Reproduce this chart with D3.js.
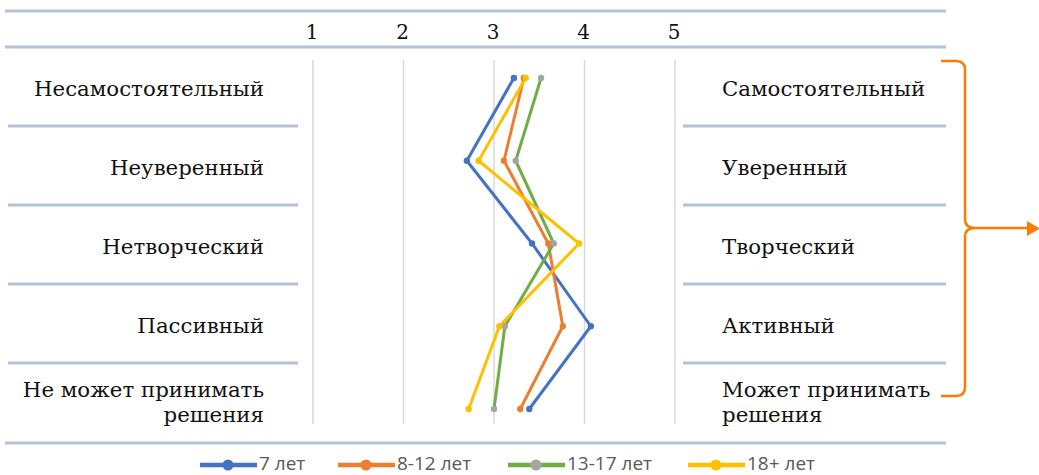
<!DOCTYPE html>
<html><head><meta charset="utf-8">
<script src="https://cdn.jsdelivr.net/npm/d3@7/dist/d3.min.js"></script>
<style>body{margin:0;background:#fff}svg{display:block}</style>
</head><body>
<svg id="c" width="1039" height="475"></svg>
<script>
const leftLabels = [["Несамостоятельный"],["Неуверенный"],["Нетворческий"],["Пассивный"],["Не может принимать","решения"]];
const rightLabels = [["Самостоятельный"],["Уверенный"],["Творческий"],["Активный"],["Может принимать","решения"]];
const tickValues = [1,2,3,4,5];
const seriesNames = ["7 лет","8-12 лет","13-17 лет","18+ лет"];
const v7 = [3.22,2.70,3.42,4.07,3.39];
const v8_12 = [3.33,3.11,3.60,3.76,3.29];
const v13_17 = [3.52,3.24,3.66,3.12,3.00];
const v18 = [3.35,2.83,3.94,3.06,2.72];
const lineColors = ["#4472C4","#ED7D31","#70AD47","#FFC000"];
const markerColors = ["#4472C4","#ED7D31","#A5A5A5","#FFC000"];
const seriesValues = [v7,v8_12,v13_17,v18];

const svg = d3.select("#c");
const x = d3.scaleLinear().domain([1,5]).range([313,675]);
const y = d3.scalePoint().domain(d3.range(5)).range([78,409]);
const sepColor = "#b4c1dc";
const serif = "'DejaVu Serif', 'Liberation Serif', serif";

[11,47,443].forEach(yy=>svg.append("line").attr("x1",5).attr("x2",946).attr("y1",yy).attr("y2",yy).attr("stroke",sepColor).attr("stroke-width",3));
[126,205,284,363].forEach(yy=>{
  svg.append("line").attr("x1",8).attr("x2",298).attr("y1",yy).attr("y2",yy).attr("stroke",sepColor).attr("stroke-width",3);
  svg.append("line").attr("x1",683).attr("x2",946).attr("y1",yy).attr("y2",yy).attr("stroke",sepColor).attr("stroke-width",3);
});

svg.append("g").selectAll("line").data(tickValues).join("line")
  .attr("x1",d=>x(d)).attr("x2",d=>x(d)).attr("y1",60).attr("y2",424)
  .attr("stroke","#d9d9d9").attr("stroke-width",1.5);

svg.append("g").selectAll("text").data(tickValues).join("text")
  .attr("x",d=>x(d)-1).attr("y",39).attr("text-anchor","middle")
  .attr("font-family",serif).attr("font-size",20).attr("fill","#111").text(d=>d);

const labelY = [96,175,254,333,397];
function addLabel(t, xx, yy, anchor){
  svg.append("text").attr("x",xx).attr("y",yy).attr("text-anchor",anchor)
    .attr("font-family",serif).attr("font-size",21.3).attr("fill","#111").text(t);
}
leftLabels.forEach((lines,i)=>lines.forEach((t,j)=>addLabel(t,264,labelY[i]+j*25,"end")));
rightLabels.forEach((lines,i)=>lines.forEach((t,j)=>addLabel(t,722,labelY[i]+j*25,"start")));

const line = d3.line().x(d=>x(d)).y((d,i)=>y(i));
seriesValues.forEach((vals,s)=>{
  svg.append("path").attr("d",line(vals)).attr("fill","none").attr("stroke",lineColors[s]).attr("stroke-width",3).attr("stroke-linejoin","round");
});
seriesValues.forEach((vals,s)=>{
  svg.append("g").selectAll("circle").data(vals).join("circle")
    .attr("cx",d=>x(d)).attr("cy",(d,i)=>y(i)).attr("r",3.2).attr("fill",markerColors[s]);
});

const legX = [200,338,508,688];
seriesNames.forEach((n,s)=>{
  const g = svg.append("g").attr("transform",`translate(${legX[s]},465)`);
  g.append("line").attr("x1",0).attr("x2",57).attr("y1",0).attr("y2",0).attr("stroke",lineColors[s]).attr("stroke-width",4.5);
  g.append("circle").attr("cx",28).attr("cy",0).attr("r",5.5).attr("fill",markerColors[s]);
  g.append("text").attr("x",59).attr("y",4.5).attr("font-family","Open Sans").attr("font-size",19).attr("fill","#595959").text(n);
});

const orange = "#FF7A00";
const br = d3.path();
br.moveTo(941,61); br.lineTo(956,61); br.quadraticCurveTo(965,61,965,70);
br.lineTo(965,219); br.quadraticCurveTo(965,228,975,228);
br.quadraticCurveTo(965,228,965,237); br.lineTo(965,387);
br.quadraticCurveTo(965,396,956,396); br.lineTo(941,396);
svg.append("path").attr("d",br.toString()).attr("fill","none").attr("stroke",orange).attr("stroke-width",2.5);
svg.append("line").attr("x1",975).attr("x2",1029).attr("y1",228).attr("y2",228).attr("stroke",orange).attr("stroke-width",2.5);
svg.append("path").attr("d","M1027,221L1040,228.5L1027,236Z").attr("fill",orange);
</script>
</body></html>
